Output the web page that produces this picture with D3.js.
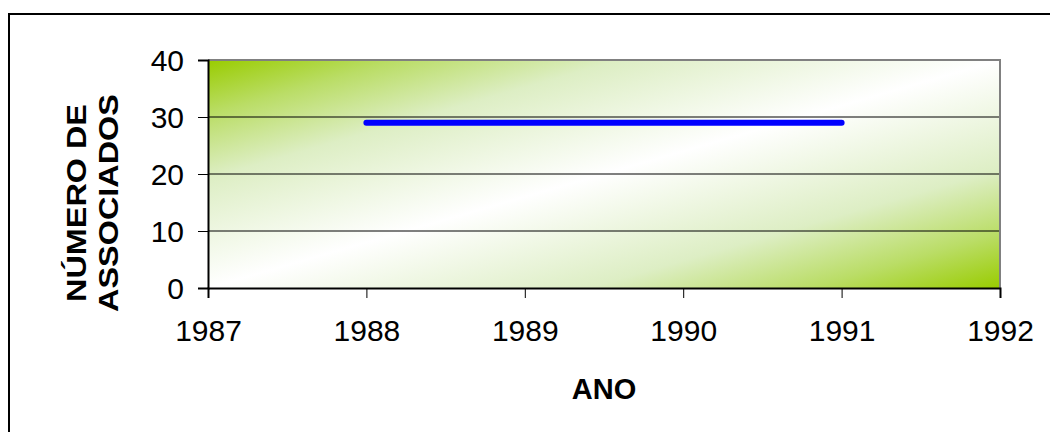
<!DOCTYPE html>
<html>
<head>
<meta charset="utf-8">
<script src="https://cdn.jsdelivr.net/npm/d3@7"></script>
<style>
  body { margin: 0; background: #fff; }
  svg { display: block; font-family: "Liberation Sans", Arial, sans-serif; }
</style>
</head>
<body>
<div id="chart"></div>
<script>
// data
const years = [1988, 1989, 1990, 1991];
const associados = [29, 29, 29, 29];
const xTicks = [1987, 1988, 1989, 1990, 1991, 1992];
const yTicks = [0, 10, 20, 30, 40];

const width = 1050, height = 432;
const margin = {left: 208, right: 50, top: 60, bottom: 144};

const svg = d3.select("#chart").append("svg")
  .attr("width", width)
  .attr("height", height);

// outer frame (right and bottom edges run off the canvas)
svg.append("rect")
  .attr("x", 9).attr("y", 14)
  .attr("width", 1200).attr("height", 600)
  .attr("fill", "none")
  .attr("stroke", "#000")
  .attr("stroke-width", 2);

const x = d3.scaleLinear().domain([1987, 1992]).range([margin.left, width - margin.right]);
const y = d3.scaleLinear().domain([0, 40]).range([height - margin.bottom, margin.top]);

const defs = svg.append("defs");
const grad = defs.append("linearGradient")
  .attr("id", "bg")
  .attr("x1", 0).attr("y1", 0).attr("x2", 1).attr("y2", 1);
[[0, "#99cc00"], [0.12, "#badd66"], [0.26, "#ddeec4"], [0.5, "#ffffff"],
 [0.74, "#ddeec4"], [0.88, "#badd66"], [1, "#99cc00"]]
  .forEach(([o, c]) => grad.append("stop").attr("offset", o).attr("stop-color", c));

svg.append("rect")
  .attr("x", x(1987)).attr("y", y(40))
  .attr("width", x(1992) - x(1987))
  .attr("height", y(0) - y(40))
  .attr("fill", "url(#bg)");

// gridlines
svg.append("g")
  .selectAll("line")
  .data(yTicks.filter(d => d > 0 && d < 40))
  .join("line")
    .attr("x1", x(1987)).attr("x2", x(1992))
    .attr("y1", d => y(d)).attr("y2", d => y(d))
    .attr("stroke", "#000").attr("stroke-width", 1);

// plot border top / right
svg.append("path")
  .attr("d", `M${x(1987)},${y(40)}H${x(1992)}V${y(0)}`)
  .attr("fill", "none")
  .attr("stroke", "#808080")
  .attr("stroke-width", 2);

// axes
const yAxis = svg.append("g")
  .attr("transform", `translate(${x(1987)},0)`)
  .call(d3.axisLeft(y).tickValues(yTicks).tickSize(10).tickPadding(14));
const xAxis = svg.append("g")
  .attr("transform", `translate(0,${y(0)})`)
  .call(d3.axisBottom(x).tickValues(xTicks).tickFormat(d3.format("d")).tickSize(10).tickPadding(22));

[xAxis, yAxis].forEach(g => {
  g.select(".domain").attr("stroke", "#000").attr("stroke-width", 2);
  g.selectAll(".tick line").attr("stroke", "#000").attr("stroke-width", 1);
  g.selectAll(".tick text")
    .attr("fill", "#000")
    .style("font-size", "30px")
    .style("font-family", "'Liberation Sans', Arial, sans-serif");
});
yAxis.selectAll(".tick text").attr("dy", "0.36em");

// series line
const line = d3.line().x((d, i) => x(years[i])).y(d => y(d));
svg.append("path")
  .datum(associados)
  .attr("d", line)
  .attr("fill", "none")
  .attr("stroke", "#0000ff")
  .attr("stroke-width", 6)
  .attr("stroke-linecap", "round");

// titles
svg.append("text")
  .attr("x", (x(1987) + x(1992)) / 2)
  .attr("y", 399)
  .attr("text-anchor", "middle")
  .style("font-size", "29px")
  .style("font-weight", "bold")
  .text("ANO");

const yt = svg.append("text")
  .attr("transform", "translate(0,203) rotate(-90) scale(1.2,1)")
  .attr("text-anchor", "middle")
  .style("font-size", "27px")
  .style("font-weight", "bold");
yt.append("tspan").attr("x", 0).attr("y", 86).text("NÚMERO DE");
yt.append("tspan").attr("x", 0).attr("y", 118).text("ASSOCIADOS");
</script>
</body>
</html>
